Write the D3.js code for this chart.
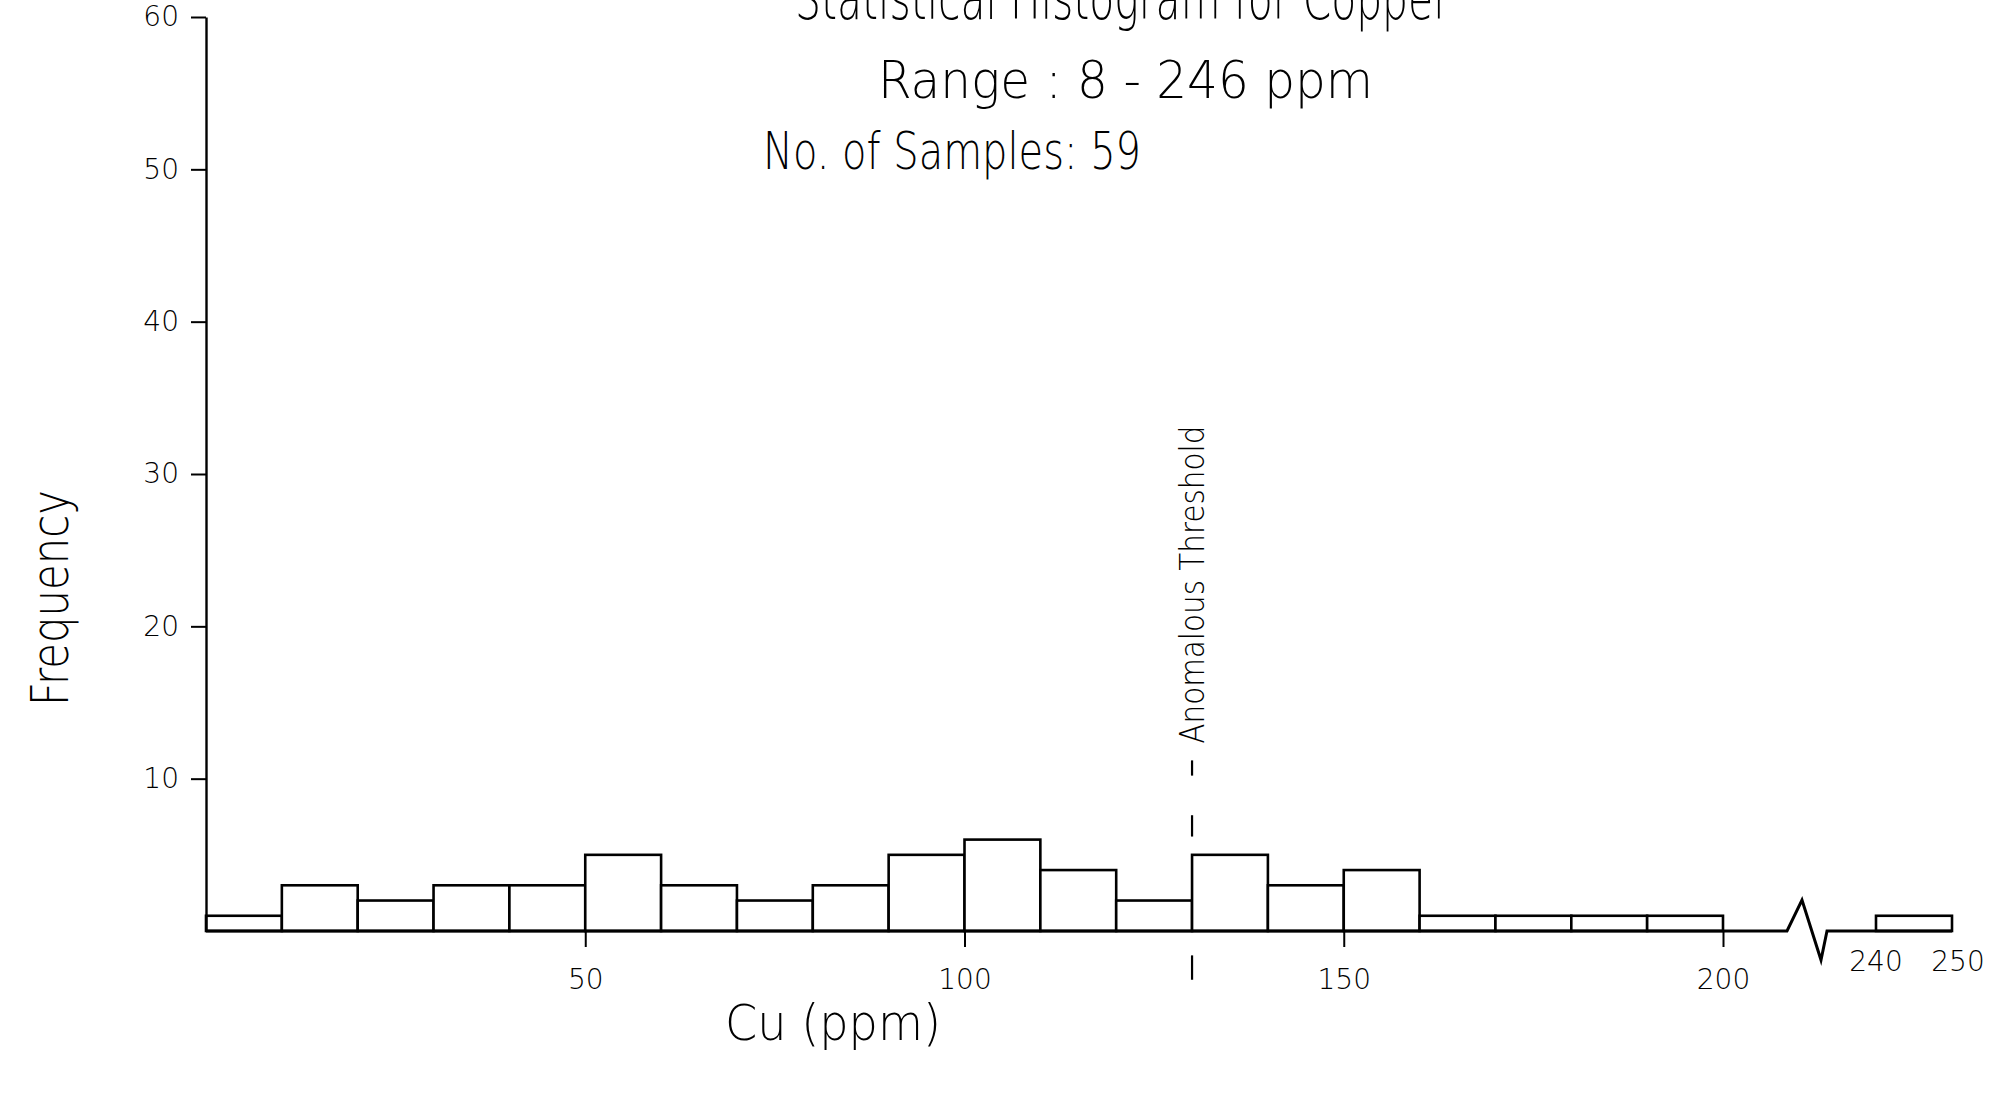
<!DOCTYPE html>
<html>
<head>
<meta charset="utf-8">
<script src="https://cdn.jsdelivr.net/npm/d3@7"></script>
<style>
  html, body { margin: 0; padding: 0; background: #fff; overflow: hidden; }
  text { font-family: "DejaVu Sans", sans-serif; font-weight: 200; fill: #000; }
</style>
</head>
<body>
<svg id="histogram" width="1994" height="1103"></svg>
<script>
// bins of 10 ppm, counts (sum = 59)
const binStarts = [0, 10, 20, 30, 40, 50, 60, 70, 80, 90, 100, 110, 120, 130, 140, 150, 160, 170, 180, 190, 240];
const binCounts = [1, 3, 2, 3, 3, 5, 3, 2, 3, 5, 6, 4, 2, 5, 3, 4, 1, 1, 1, 1, 1];
const binWidth = 10;

const xTicks = [50, 100, 150, 200];
const xTicksAfterBreak = [240, 250];
const yTicks = [10, 20, 30, 40, 50, 60];
const threshold = 130;

const titleLines = ["Statistical  Histogram  for  Copper", "Range :  8 - 246  ppm", "No. of  Samples:  59"];

const svg = d3.select("#histogram");

// broken x axis: 0-200 then jump to 240-250
const x = d3.scaleLinear()
  .domain([0, 200, 240, 250])
  .range([206, 1723, 1876, 1952]);

const y = d3.scaleLinear()
  .domain([0, 60])
  .range([931, 17]);

//bars
svg.append("g")
  .selectAll("rect")
  .data(binStarts.map((s, i) => ({ lo: s, hi: s + binWidth, n: binCounts[i] })))
  .join("rect")
  .attr("x", d => x(d.lo))
  .attr("y", d => y(d.n))
  .attr("width", d => x(d.hi) - x(d.lo))
  .attr("height", d => y(0) - y(d.n))
  .attr("fill", "#fff")
  .attr("stroke", "#000")
  .attr("stroke-width", 2.6);

//baseline with the break zigzag
const bx = x(200) + 64;
const baseLine = [
  [x(0), y(0)], [x(200), y(0)], [bx, y(0)],
  [bx + 15, y(0) - 31], [bx + 34, y(0) + 29], [bx + 40, y(0)],
  [x(240), y(0)], [x(250), y(0)]
];
svg.append("path")
  .attr("d", d3.line()(baseLine))
  .attr("fill", "none")
  .attr("stroke", "#000")
  .attr("stroke-width", 3);

//x axis ticks
const xAxis = svg.append("g")
  .attr("transform", `translate(0,${y(0)})`)
  .call(d3.axisBottom(x).tickValues(xTicks).tickSize(16).tickPadding(22).tickSizeOuter(0));
xAxis.select(".domain").remove();
xAxis.selectAll(".tick line").attr("stroke", "#000").attr("stroke-width", 2);
xAxis.selectAll(".tick text").attr("font-size", 28).attr("fill", "#000")
  .style("font-family", "DejaVu Sans").style("font-weight", 200);

svg.append("g")
  .selectAll("text")
  .data(xTicksAfterBreak)
  .join("text")
  .attr("x", d => x(d) + (d === 250 ? 6 : 0))
  .attr("y", y(0) + 40)
  .attr("text-anchor", "middle")
  .attr("font-size", 28)
  .text(d => d);

//y axis
const yAxis = svg.append("g")
  .attr("transform", `translate(${x(0)},0)`)
  .call(d3.axisLeft(y).tickValues(yTicks).tickSize(15).tickPadding(12).tickSizeOuter(0));
yAxis.select(".domain").attr("stroke", "#000").attr("stroke-width", 2.4);
yAxis.selectAll(".tick line").attr("stroke", "#000").attr("stroke-width", 2);
yAxis.selectAll(".tick text").attr("font-size", 28).attr("fill", "#000")
  .style("font-family", "DejaVu Sans").style("font-weight", 200);

//threshold marker
const tx = x(threshold);
const dashes = [[-3.2, -1.6], [6.2, 7.6], [10.2, 11.2]];
svg.append("g")
  .selectAll("line")
  .data(dashes)
  .join("line")
  .attr("x1", tx).attr("x2", tx)
  .attr("y1", d => y(d[0])).attr("y2", d => y(d[1]))
  .attr("stroke", "#000")
  .attr("stroke-width", 2.2);

svg.append("text")
  .attr("transform", `translate(${tx + 12},${y(12.3)}) rotate(-90)`)
  .attr("font-size", 34)
  .attr("textLength", 318)
  .attr("lengthAdjust", "spacingAndGlyphs")
  .text("Anomalous  Threshold");

//title block
svg.append("text")
  .attr("x", 795).attr("y", 19)
  .attr("font-size", 58)
  .attr("textLength", 655)
  .attr("lengthAdjust", "spacingAndGlyphs")
  .text(titleLines[0]);

svg.append("text")
  .attr("x", 878).attr("y", 98)
  .attr("font-size", 52)
  .attr("textLength", 495)
  .attr("lengthAdjust", "spacingAndGlyphs")
  .text(titleLines[1]);

svg.append("text")
  .attr("x", 763).attr("y", 169)
  .attr("font-size", 52)
  .attr("textLength", 378)
  .attr("lengthAdjust", "spacingAndGlyphs")
  .text(titleLines[2]);

//axis labels
svg.append("text")
  .attr("transform", "translate(68,598) rotate(-90)")
  .attr("text-anchor", "middle")
  .attr("font-size", 52)
  .attr("textLength", 216)
  .attr("lengthAdjust", "spacingAndGlyphs")
  .text("Frequency");

svg.append("text")
  .attr("x", 833).attr("y", 1040)
  .attr("text-anchor", "middle")
  .attr("font-size", 50)
  .attr("textLength", 216)
  .attr("lengthAdjust", "spacingAndGlyphs")
  .text("Cu (ppm)");
</script>
</body>
</html>
